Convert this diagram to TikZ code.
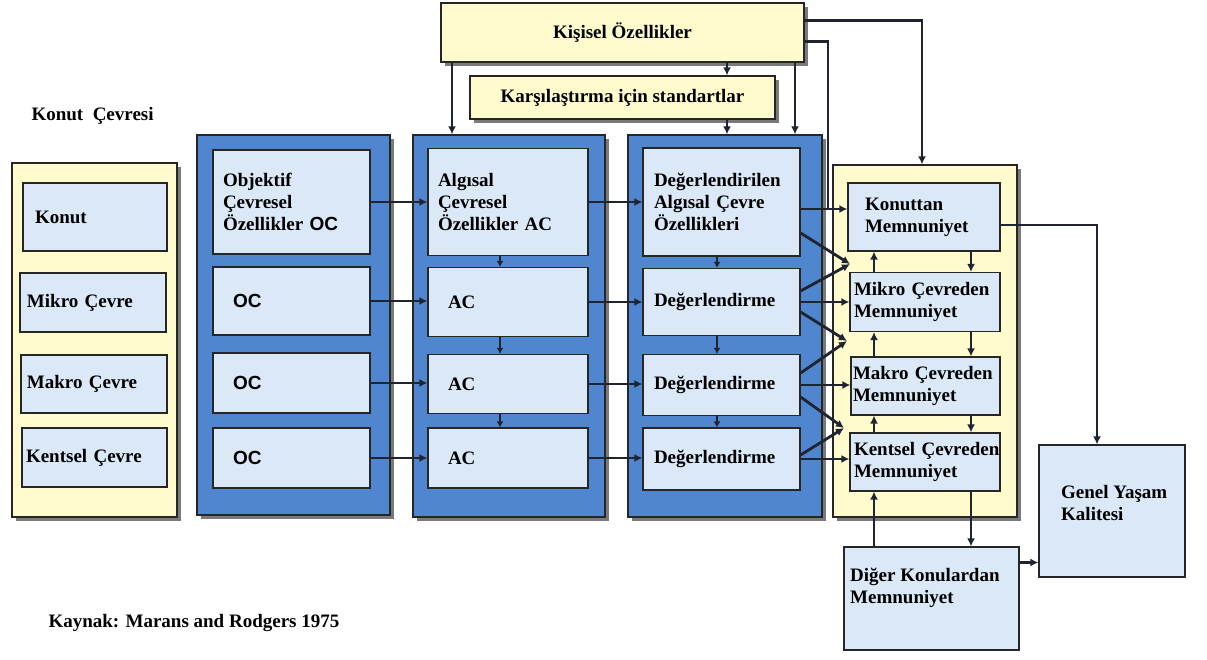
\documentclass[tikz,border=0pt]{standalone}
\usepackage{fontspec}
\setmainfont{Liberation Serif}
\newfontfamily\sanf{Liberation Sans}
\usetikzlibrary{arrows.meta,shadows}
\definecolor{ylw}{HTML}{FFFBCC}
\definecolor{pblue}{HTML}{4F86CF}
\definecolor{lblue}{HTML}{DAE8F7}
\definecolor{bord}{HTML}{262626}
\definecolor{shd}{HTML}{7A7A7A}
\definecolor{arrc}{HTML}{1E2430}
\hyphenpenalty=10000
\exhyphenpenalty=10000
\begin{document}
\begin{tikzpicture}[x=1pt,y=-1pt,
  txt/.style={font=\fontsize{19}{22}\selectfont\bfseries, text=black},
  panel/.style={draw=bord, line width=1.3pt, inner sep=0pt,
    drop shadow={shadow xshift=4pt, shadow yshift=-4pt, fill=shd, opacity=1}},
  ypanel/.style={panel, fill=ylw},
  bpanel/.style={panel, fill=pblue},
  ibox/.style={draw=bord, line width=1.2pt, fill=lblue, inner sep=0pt, align=left, txt},
  arr/.style={draw=arrc, line width=2.8pt, -{Latex[length=8pt,width=8pt]}},
  sarr/.style={draw=arrc, line width=2.8pt, -{Latex[length=6pt,width=7pt]}},
  ln/.style={draw=arrc, line width=2.8pt},
]
\useasboundingbox (0,0) rectangle (1207,659);
\fill[white] (0,0) rectangle (1207,659);

% panels
\node[ypanel, minimum width=363pt, minimum height=59pt, txt] (kis) at (622.5,32.5) {Kişisel Özellikler};
\node[ypanel, minimum width=305pt, minimum height=43pt, txt] (kar) at (622.5,97.5) {Karşılaştırma için standartlar};
\node[ypanel, minimum width=165pt, minimum height=354pt] (lp) at (94.5,340) {};
\node[bpanel, minimum width=193pt, minimum height=380pt] (ocp) at (293.5,325) {};
\node[bpanel, minimum width=192pt, minimum height=382pt] (acp) at (509,326) {};
\node[bpanel, minimum width=194pt, minimum height=382pt] (dp) at (725,326) {};
\node[ypanel, minimum width=184pt, minimum height=352pt] (rp) at (925,341) {};

\node[txt, anchor=base west] (kc) at (28,120) {Konut~~Çevresi};
\node[txt, anchor=base west] (src) at (45,627) {Kaynak: Marans and Rodgers 1975};

% left panel boxes
\node[ibox, minimum width=144pt, minimum height=68pt, text width=120pt] (konut) at (95,217) {Konut};
\node[ibox, minimum width=146pt, minimum height=59pt, text width=132pt] (mc) at (93,302.5) {Mikro~Çevre};
\node[ibox, minimum width=146pt, minimum height=58pt, text width=134pt] (mac) at (94,384) {Makro~Çevre};
\node[ibox, minimum width=145pt, minimum height=59pt, text width=137pt] (kec) at (94.5,457.5) {Kentsel~Çevre};

% OC column
\node[ibox, minimum width=157pt, minimum height=104pt, text width=137pt] (obj) at (291.5,202) {Objektif\\Çevresel\\Özellikler~{\sanf OC}};
\node[ibox, minimum width=157pt, minimum height=68pt, text width=117pt] (oc1) at (291.5,301) {{\sanf OC}};
\node[ibox, minimum width=157pt, minimum height=60pt, text width=117pt] (oc2) at (291.5,383) {{\sanf OC}};
\node[ibox, minimum width=157pt, minimum height=60pt, text width=117pt] (oc3) at (291.5,458) {{\sanf OC}};

% AC column
\node[ibox, minimum width=160pt, minimum height=107pt, text width=140pt] (alg) at (508,202) {Algısal\\Çevresel\\Özellikler~AC};
\node[ibox, minimum width=160pt, minimum height=69pt, text width=120pt] (ac1) at (508,302) {AC};
\node[ibox, minimum width=160pt, minimum height=59pt, text width=120pt] (ac2) at (508,384) {AC};
\node[ibox, minimum width=160pt, minimum height=60pt, text width=120pt] (ac3) at (508,458) {AC};

% D column
\node[ibox, minimum width=157pt, minimum height=108pt, text width=135pt] (da) at (721.5,202) {Değerlendirilen\\Algısal~Çevre\\Özellikleri};
\node[ibox, minimum width=157pt, minimum height=67pt, text width=135pt] (d1) at (721.5,302) {Değerlendirme};
\node[ibox, minimum width=157pt, minimum height=61pt, text width=135pt] (d2) at (721.5,385) {Değerlendirme};
\node[ibox, minimum width=157pt, minimum height=62pt, text width=135pt] (d3) at (721.5,459) {Değerlendirme};

% right panel
\node[ibox, minimum width=152pt, minimum height=68pt, text width=118pt] (kon) at (924,217) {Konuttan\\Memnuniyet};
\node[ibox, minimum width=150pt, minimum height=59pt, text width=142pt] (mik) at (925,302) {Mikro~Çevreden\\Memnuniyet};
\node[ibox, minimum width=149pt, minimum height=58pt, text width=145pt] (mak) at (925.5,386) {Makro~Çevreden\\Memnuniyet};
\node[ibox, minimum width=150pt, minimum height=58pt, text width=142pt] (ken) at (925,462) {Kentsel~Çevreden\\Memnuniyet};

\node[ibox, minimum width=146pt, minimum height=132pt] (gen) at (1112,511) {};
\node[txt, align=left, anchor=base west, inner sep=0pt] (gent) at (1061,520) {Genel~Yaşam\\Kalitesi};
\node[ibox, minimum width=175pt, minimum height=103pt] (dig) at (931.5,598.5) {};
\node[txt, align=left, anchor=base west, inner sep=0pt] (digt) at (850,603) {Diğer~Konulardan\\Memnuniyet};

% helper coordinates
\coordinate (xa) at (452,0);
\coordinate (xb) at (727,0);
\coordinate (xc) at (795,0);
\coordinate (xr) at (922,0);
\coordinate (xk) at (828,0);
\coordinate (xg) at (1097,0);
\coordinate (xac) at (500,0);
\coordinate (xd) at (717,0);
\coordinate (xu) at (874,0);
\coordinate (xw) at (971,0);
\coordinate (p1) at (850,264);
\coordinate (p2) at (847,341);
\coordinate (p3) at (844,428);

% top arrows
\draw[arr] (kis.south -| xa) -- (acp.north -| xa);
\draw[arr] (kis.south -| xb) -- (kar.north -| xb);
\draw[arr] (kar.south -| xb) -- (dp.north -| xb);
\draw[arr] (kis.south -| xc) -- (dp.north -| xc);
\draw[arr] ([yshift=12pt]kis.east) -| (rp.north -| xr);
\coordinate (dk) at ([yshift=-7pt]da.east);
\draw[ln] ([yshift=-9pt]kis.east) -| (dk -| xk);

% OC -> AC
\draw[arr] (obj.east) -- (obj.east -| alg.west);
\draw[arr] (oc1.east) -- (oc1.east -| ac1.west);
\draw[arr] (oc2.east) -- (oc2.east -| ac2.west);
\draw[arr] (oc3.east) -- (oc3.east -| ac3.west);
% AC -> D
\draw[arr] (alg.east) -- (alg.east -| da.west);
\draw[arr] (ac1.east) -- (ac1.east -| d1.west);
\draw[arr] (ac2.east) -- (ac2.east -| d2.west);
\draw[arr] (ac3.east) -- (ac3.east -| d3.west);
% vertical small arrows
\draw[sarr] (alg.south -| xac) -- (ac1.north -| xac);
\draw[sarr] (ac1.south -| xac) -- (ac2.north -| xac);
\draw[sarr] (ac2.south -| xac) -- (ac3.north -| xac);
\draw[sarr] (da.south -| xd) -- (d1.north -| xd);
\draw[sarr] (d1.south -| xd) -- (d2.north -| xd);
\draw[sarr] (d2.south -| xd) -- (d3.north -| xd);

% D -> right panel
\draw[arr] (dk) -- (dk -| kon.west);
\draw[arr] (d1.east) -- (d1.east -| mik.west);
\draw[arr] (d2.east) -- (d2.east -| mak.west);
\draw[arr] (d3.east) -- (d3.east -| ken.west);
\draw[arr] ([yshift=-31pt]da.east) -- (p1);
\draw[arr] ([yshift=11pt]d1.east) -- (p1);
\draw[arr] ([yshift=-10pt]d1.east) -- (p2);
\draw[arr] ([yshift=12pt]d2.east) -- (p2);
\draw[arr] ([yshift=-12pt]d2.east) -- (p3);
\draw[arr] ([yshift=4pt]d3.east) -- (p3);

% right panel verticals
\draw[arr] (mik.north -| xu) -- (kon.south -| xu);
\draw[arr] (kon.south -| xw) -- (mik.north -| xw);
\draw[arr] (mak.north -| xu) -- (mik.south -| xu);
\draw[arr] (mik.south -| xw) -- (mak.north -| xw);
\draw[arr] (ken.north -| xu) -- (mak.south -| xu);
\draw[arr] (mak.south -| xw) -- (ken.north -| xw);
\draw[arr] (ken.south -| xw) -- (dig.north -| xw);
\draw[arr] (dig.north -| xu) -- (ken.south -| xu);

% to Genel
\draw[arr] ([yshift=-8pt]kon.east) -| (gen.north -| xg);
\coordinate (dg) at ([yshift=36pt]dig.east);
\draw[arr] (dg) -- (dg -| gen.west);
\end{tikzpicture}
\end{document}
